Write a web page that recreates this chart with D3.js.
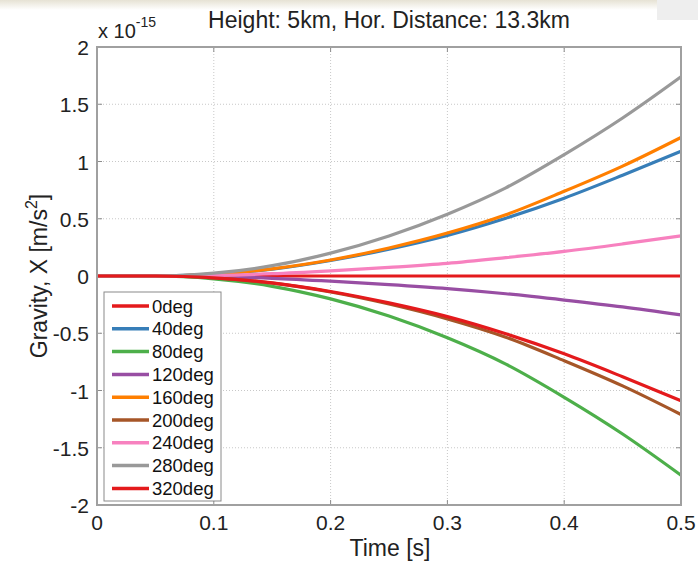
<!DOCTYPE html>
<html>
<head>
<meta charset="utf-8">
<script src="https://cdn.jsdelivr.net/npm/d3@7/dist/d3.min.js"></script>
<style>
  html, body { margin: 0; padding: 0; background: #fff; }
  svg { display: block; font-family: "Liberation Sans", Arial, sans-serif; }
</style>
</head>
<body>
<svg id="chart" width="698" height="563"></svg>
<script>
// Sample times [s]
const times = [0, 0.05, 0.1, 0.15, 0.2, 0.25, 0.3, 0.35, 0.4, 0.45, 0.5];

// Horizontal gravity component, in units of 1e-15 m/s^2, per source azimuth
const deg0   = [0, 0, 0, 0, 0, 0, 0, 0, 0, 0, 0];
const deg40  = [0, 0, 0.016, 0.06, 0.135, 0.235, 0.355, 0.505, 0.68, 0.88, 1.09];
const deg80  = [0, 0, -0.025, -0.09, -0.2, -0.35, -0.54, -0.77, -1.06, -1.38, -1.74];
const deg120 = [0, 0, -0.005, -0.02, -0.045, -0.075, -0.11, -0.155, -0.21, -0.27, -0.34];
const deg160 = [0, 0, 0.017, 0.063, 0.14, 0.245, 0.375, 0.535, 0.74, 0.96, 1.21];
const deg200 = [0, 0, -0.017, -0.063, -0.14, -0.245, -0.375, -0.535, -0.74, -0.96, -1.21];
const deg240 = [0, 0, 0.005, 0.02, 0.045, 0.075, 0.11, 0.16, 0.215, 0.28, 0.35];
const deg280 = [0, 0, 0.025, 0.09, 0.2, 0.35, 0.54, 0.77, 1.06, 1.38, 1.74];
const deg320 = [0, 0, -0.016, -0.06, -0.135, -0.235, -0.355, -0.505, -0.68, -0.88, -1.09];

const seriesNames = ["0deg", "40deg", "80deg", "120deg", "160deg", "200deg", "240deg", "280deg", "320deg"];
const seriesValues = [deg0, deg40, deg80, deg120, deg160, deg200, deg240, deg280, deg320];
const seriesColors = ["#e41a1c", "#377eb8", "#4daf4a", "#984ea3", "#ff7f00", "#a65628", "#f781bf", "#999999", "#e41a1c"];

const xTicks = [0, 0.1, 0.2, 0.3, 0.4, 0.5];
const yTicks = [-2, -1.5, -1, -0.5, 0, 0.5, 1, 1.5, 2];

const titleText = "Height: 5km, Hor. Distance: 13.3km";
const xLabelText = "Time [s]";

const svg = d3.select("#chart");
const W = 698, H = 563;
const margin = { left: 97, right: 17, top: 47, bottom: 58 };
const pw = W - margin.left - margin.right;
const ph = H - margin.top - margin.bottom;

// slide background strips
const defs = svg.append("defs");
const grad = defs.append("linearGradient").attr("id", "topfade")
  .attr("x1", 0).attr("y1", 0).attr("x2", 0).attr("y2", 1);
grad.append("stop").attr("offset", "0%").attr("stop-color", "#e6e2d4");
grad.append("stop").attr("offset", "100%").attr("stop-color", "#ffffff");
svg.append("rect").attr("x", 0).attr("y", 0).attr("width", W).attr("height", 10).attr("fill", "url(#topfade)");
svg.append("rect").attr("x", 657).attr("y", 0).attr("width", 41).attr("height", 20).attr("fill", "#eeeeee");

const x = d3.scaleLinear().domain([0, 0.5]).range([margin.left, margin.left + pw]);
const y = d3.scaleLinear().domain([-2, 2]).range([margin.top + ph, margin.top]);

const g = svg.append("g");

// dotted grid
g.append("g").selectAll("line").data(xTicks.slice(1, -1)).join("line")
  .attr("x1", d => x(d)).attr("x2", d => x(d))
  .attr("y1", y(-2)).attr("y2", y(2))
  .attr("stroke", "#c8c8c8").attr("stroke-width", 1).attr("stroke-dasharray", "1,2");
g.append("g").selectAll("line").data(yTicks.slice(1, -1)).join("line")
  .attr("x1", x(0)).attr("x2", x(0.5))
  .attr("y1", d => y(d)).attr("y2", d => y(d))
  .attr("stroke", "#c8c8c8").attr("stroke-width", 1).attr("stroke-dasharray", "1,2");

// inward tick marks on all four sides
const tl = 5;
const tickG = g.append("g").attr("stroke", "#8c8c8c").attr("stroke-width", 1);
xTicks.forEach(d => {
  tickG.append("line").attr("x1", x(d)).attr("x2", x(d)).attr("y1", y(-2)).attr("y2", y(-2) - tl);
  tickG.append("line").attr("x1", x(d)).attr("x2", x(d)).attr("y1", y(2)).attr("y2", y(2) + tl);
});
yTicks.forEach(d => {
  tickG.append("line").attr("x1", x(0)).attr("x2", x(0) + tl).attr("y1", y(d)).attr("y2", y(d));
  tickG.append("line").attr("x1", x(0.5)).attr("x2", x(0.5) - tl).attr("y1", y(d)).attr("y2", y(d));
});

// series lines
const line = d3.line()
  .x((d, i) => x(times[i]))
  .y(d => y(d))
  .curve(d3.curveMonotoneX);
seriesValues.forEach((vals, k) => {
  g.append("path").datum(vals)
    .attr("d", line)
    .attr("fill", "none")
    .attr("stroke", seriesColors[k])
    .attr("stroke-width", 3.2)
    .attr("stroke-linejoin", "round");
});

// axes box
g.append("rect").attr("x", x(0)).attr("y", y(2)).attr("width", x(0.5) - x(0)).attr("height", y(-2) - y(2))
  .attr("fill", "none").attr("stroke", "#a0a0a0").attr("stroke-width", 2);

// tick labels
const fs = 21;
g.append("g").selectAll("text").data(xTicks).join("text")
  .attr("x", d => x(d)).attr("y", y(-2) + 25)
  .attr("text-anchor", "middle").attr("font-size", fs).attr("fill", "#222")
  .text(d => d3.format("")(d));
g.append("g").selectAll("text").data(yTicks).join("text")
  .attr("x", x(0) - 8).attr("y", d => y(d) + 8)
  .attr("text-anchor", "end").attr("font-size", fs).attr("fill", "#222")
  .text(d => String(d));

// exponent
const ex = svg.append("text").attr("x", x(0) + 1).attr("y", 38).attr("font-size", 20).attr("fill", "#222");
ex.append("tspan").text("x 10");
ex.append("tspan").attr("dy", -11).attr("font-size", 14).text("-15");

// title
svg.append("text").attr("x", 389).attr("y", 28).attr("text-anchor", "middle")
  .attr("font-size", 23).attr("fill", "#222").text(titleText);

// x label
svg.append("text").attr("x", 390).attr("y", 556).attr("text-anchor", "middle")
  .attr("font-size", 23).attr("fill", "#222").text(xLabelText);

// y label
const yl = svg.append("text").attr("transform", `translate(47,${y(0)}) rotate(-90)`)
  .attr("text-anchor", "middle").attr("font-size", 23).attr("fill", "#222");
yl.append("tspan").text("Gravity, X [m/s");
yl.append("tspan").attr("dy", -10).attr("font-size", 16).text("2");
yl.append("tspan").attr("dy", 10).text("]");

// legend
const lg = svg.append("g");
const lx = 104, ly = 292, lw = 117, lh = 209, step = 22.8;
lg.append("rect").attr("x", lx).attr("y", ly).attr("width", lw).attr("height", lh)
  .attr("fill", "#fff").attr("stroke", "#8a8a8a").attr("stroke-width", 1);
seriesNames.forEach((name, k) => {
  const yy = ly + 14 + k * step;
  lg.append("line").attr("x1", lx + 8).attr("x2", lx + 45).attr("y1", yy).attr("y2", yy)
    .attr("stroke", seriesColors[k]).attr("stroke-width", 3.5);
  lg.append("text").attr("x", lx + 48).attr("y", yy + 6.5).attr("font-size", 18.5).attr("fill", "#111").text(name);
});
</script>
</body>
</html>
